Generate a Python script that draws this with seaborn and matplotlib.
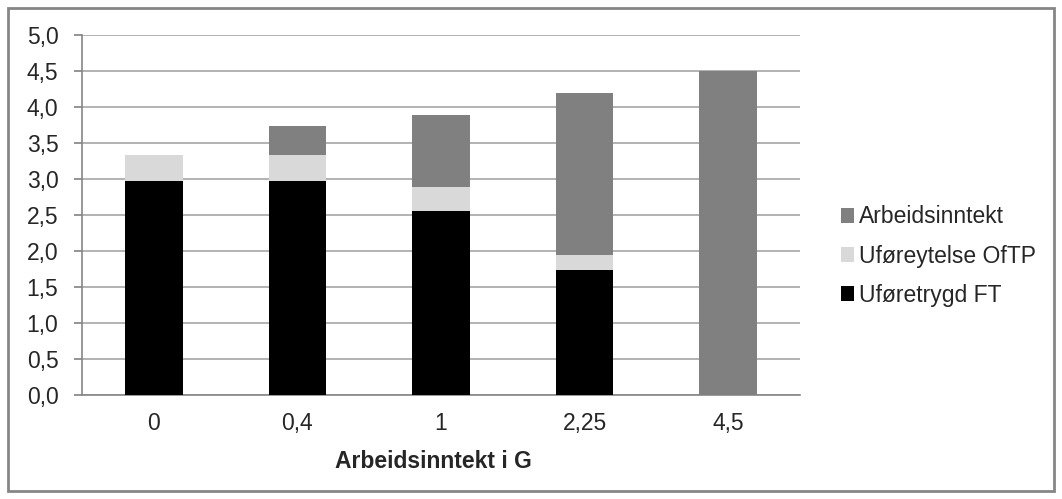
import numpy as np
import pandas as pd
import matplotlib
matplotlib.use("Agg")
import matplotlib.pyplot as plt
import seaborn as sns
from matplotlib.patches import Rectangle, Patch

# ------ DATA ------ #

categories = ["0", "0,4", "1", "2,25", "4,5"]
uforetrygd_ft = [2.97, 2.97, 2.56, 1.74, 0.0]
uforeytelse_oftp = [0.37, 0.37, 0.33, 0.21, 0.0]
arbeidsinntekt = [0.0, 0.4, 1.0, 2.25, 4.5]
y_ticks = [0.0, 0.5, 1.0, 1.5, 2.0, 2.5, 3.0, 3.5, 4.0, 4.5, 5.0]

series_names = ["Uføretrygd FT", "Uføreytelse OfTP", "Arbeidsinntekt"]
series_colors = ["#000000", "#d9d9d9", "#808080"]

FS = 16.5

# ------ STYLE ------ #

sns.set_theme(style="white")
plt.rcParams['font.family'] = ['Liberation Sans', 'DejaVu Sans']

fig = plt.figure(figsize=(10.62, 4.99), dpi=100)
ax = fig.add_axes([82 / 1062, 1 - 395 / 499, (800 - 82) / 1062, (395 - 35) / 499])

# ------ STACKED BARS ------ #

df = pd.DataFrame({
    "cat": categories,
    "ft": uforetrygd_ft,
    "oftp": uforeytelse_oftp,
    "arb": arbeidsinntekt,
})
bottom = np.zeros(len(categories))
for col, name, color in zip(["ft", "oftp", "arb"], series_names, series_colors):
    sns.barplot(data=df, x="cat", y=col, order=categories, color=color,
                width=0.4, bottom=bottom, ax=ax, zorder=3, linewidth=0)
    bottom = bottom + df[col].values

# ------ AXES ------ #

ax.set_ylim(0, 5)
ax.set_xlim(-0.5, len(categories) - 0.5)
ax.set_yticks(y_ticks)
ax.set_yticklabels([f"{v:.1f}".replace(".", ",") for v in y_ticks])
ax.yaxis.grid(True, color="#a6a6a6", linewidth=1.2, zorder=0)
ax.set_axisbelow(True)

ax.set_xticks(np.arange(len(categories)))
ax.set_xticklabels(categories)
ax.set_xticks(np.arange(len(categories) + 1) - 0.5, minor=True)
ax.tick_params(axis="x", which="major", length=0, pad=12, labelsize=FS)
ax.tick_params(axis="x", which="minor", length=6, color="#868686", direction="out")
ax.tick_params(axis="y", length=6, color="#868686", direction="out", pad=11, labelsize=FS,
               left=True)

for s in ["top", "right"]:
    ax.spines[s].set_visible(False)
for s in ["left", "bottom"]:
    ax.spines[s].set_color("#868686")
    ax.spines[s].set_linewidth(1.2)

ax.set_ylabel("")
ax.set_xlabel("Arbeidsinntekt i G", fontsize=FS, fontweight="bold", va="center")
ax.xaxis.set_label_coords(0.49, (395 - 462) / 360)

# ------ LEGEND ------ #

handles = [Patch(facecolor=c, edgecolor="none") for c in series_colors[::-1]]
fig.legend(handles, series_names[::-1], loc="center left",
           bbox_to_anchor=(820 / 1062, 1 - 256 / 499), frameon=False,
           fontsize=FS, handlelength=0.6, handleheight=0.6, handletextpad=0.2,
           labelspacing=0.7)

# ------ FIGURE BORDER ------ #

fig.patches.append(Rectangle((8 / 1062, 8 / 499), 1 - 16 / 1062, 1 - 16 / 499,
                             transform=fig.transFigure, fill=False,
                             edgecolor="#868686", linewidth=2))

fig.savefig("out.png", dpi=100)
